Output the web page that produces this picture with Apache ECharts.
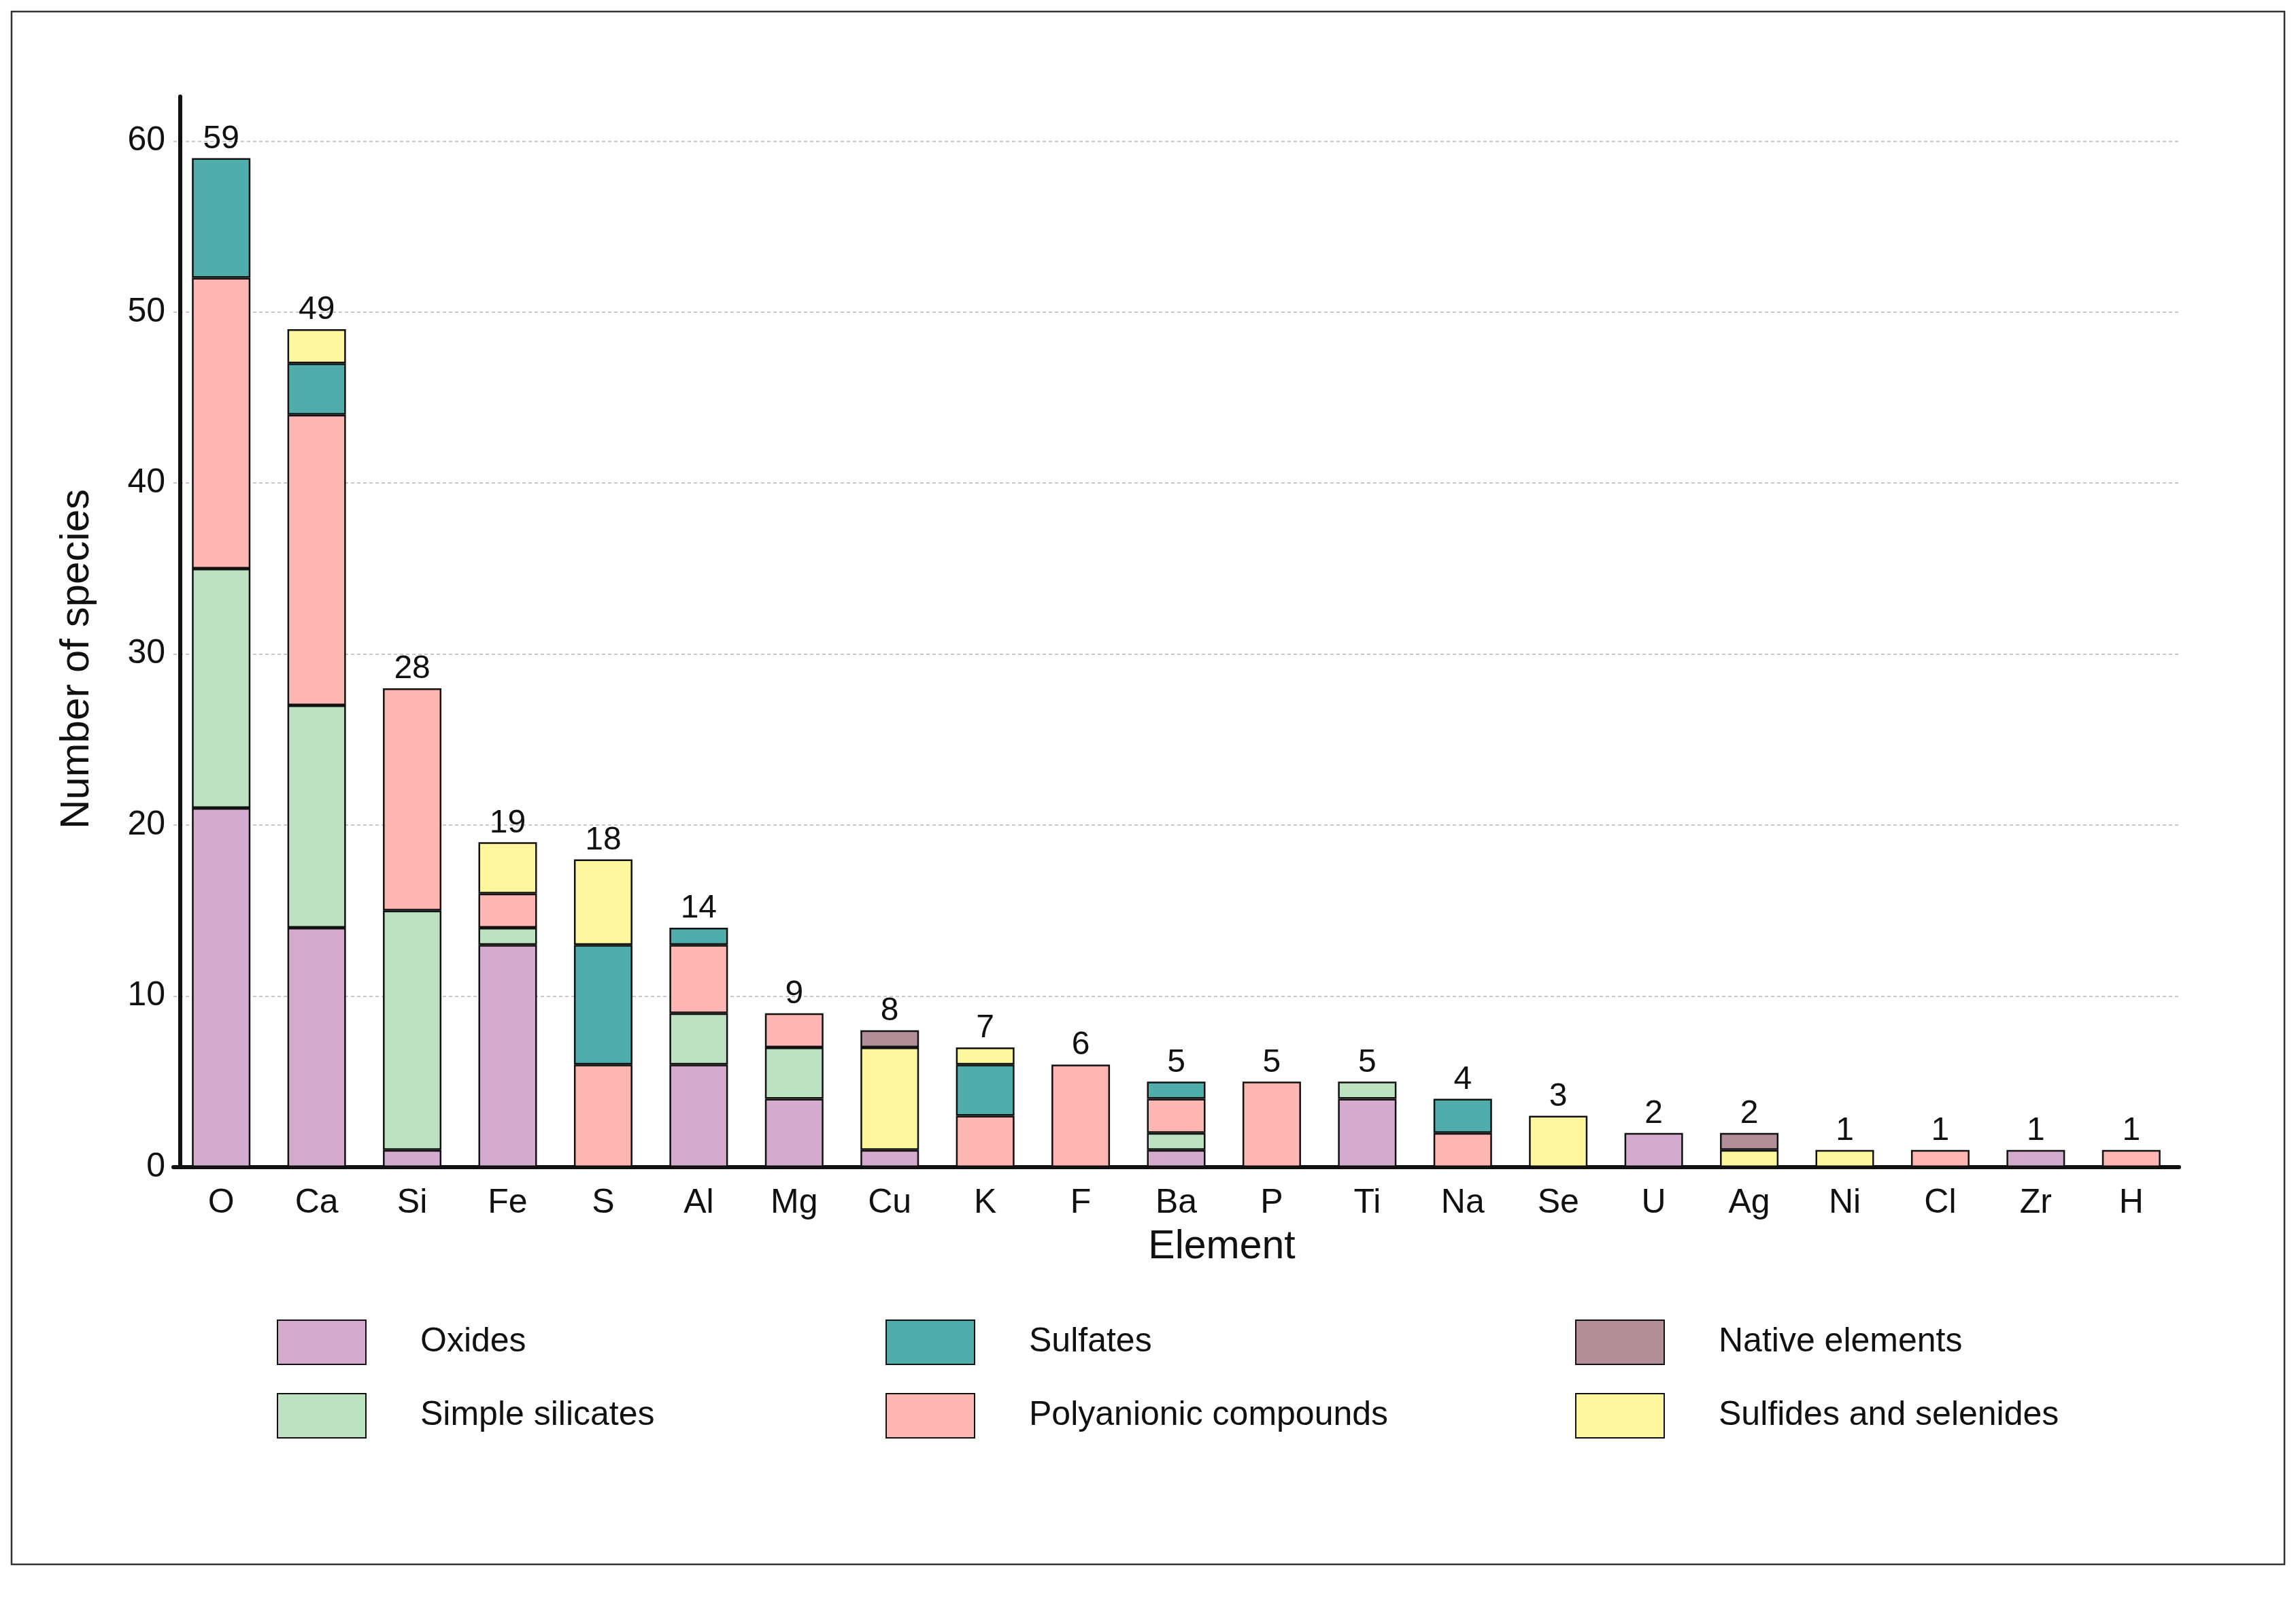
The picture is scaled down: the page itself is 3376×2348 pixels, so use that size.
<!DOCTYPE html>
<html>
<head>
<meta charset="utf-8">
<script src="https://cdn.jsdelivr.net/npm/echarts@6/dist/echarts.min.js"></script>
<style>html,body{margin:0;padding:0;background:#fff;}#c{width:3376px;height:2348px;}</style>
</head>
<body>
<div id="c"></div>
<script>
const categories = ['O','Ca','Si','Fe','S','Al','Mg','Cu','K','F','Ba','P','Ti','Na','Se','U','Ag','Ni','Cl','Zr','H'];
const oxides      = [21,14,1,13,0,6,4,1,0,0,1,0,4,0,0,2,0,0,0,1,0];
const silicates   = [14,13,14,1,0,3,3,0,0,0,1,0,1,0,0,0,0,0,0,0,0];
const polyanionic = [17,17,13,2,6,4,2,0,3,6,2,5,0,2,0,0,0,0,1,0,1];
const sulfates    = [7,3,0,0,7,1,0,0,3,0,1,0,0,2,0,0,0,0,0,0,0];
const sulfides    = [0,2,0,3,5,0,0,6,1,0,0,0,0,0,3,0,1,1,0,0,0];
const native      = [0,0,0,0,0,0,0,1,0,0,0,0,0,0,0,0,1,0,0,0,0];
const yTicks = [0,10,20,30,40,50,60];

const FONT = '"Liberation Sans", Arial, sans-serif';
const groups = [
  {name:'Oxides', data:oxides, color:'#D4AACE'},
  {name:'Simple silicates', data:silicates, color:'#BCE2C2'},
  {name:'Polyanionic compounds', data:polyanionic, color:'#FEB6B3'},
  {name:'Sulfates', data:sulfates, color:'#4FADAB'},
  {name:'Sulfides and selenides', data:sulfides, color:'#FFF79E'},
  {name:'Native elements', data:native, color:'#B28F98'}
];
const totals = categories.map((c,i)=>groups.reduce((s,g)=>s+g.data[i],0));

const series = groups.map(g=>({
  name:g.name, type:'bar', stack:'total', barWidth:86,
  data:g.data.map(v=>v===0?null:v),
  itemStyle:{color:g.color, borderColor:'#111', borderWidth:2.5},
  emphasis:{disabled:true}
}));
series.push({
  name:'_total', type:'bar', stack:'total', barWidth:86,
  data:categories.map(()=>0),
  itemStyle:{color:'transparent', borderWidth:0},
  label:{show:true, position:'top', distance:4, color:'#111', fontSize:48, fontFamily:FONT,
         formatter:p=>String(totals[p.dataIndex])},
  emphasis:{disabled:true}
});

const legendCommon = {
  orient:'vertical', top:1940, padding:0, itemGap:41, itemWidth:130, itemHeight:65,
  icon:'rect', selectedMode:false,
  textStyle:{fontSize:50, fontFamily:FONT, color:'#111', padding:[0,0,0,75]}
};

const chart = echarts.init(document.getElementById('c'), null, {renderer:'canvas'});
chart.setOption({
  backgroundColor:'#fff',
  animation:false,
  graphic:[{type:'rect', shape:{x:17,y:17,width:3342,height:2283},
            style:{fill:'none', stroke:'#333', lineWidth:2.5}, silent:true}],
  legend:[
    Object.assign({left:407, data:['Oxides','Simple silicates']}, legendCommon),
    Object.assign({left:1302, data:['Sulfates','Polyanionic compounds']}, legendCommon),
    Object.assign({left:2316, data:['Native elements','Sulfides and selenides']}, legendCommon)
  ],
  grid:{left:255, right:3376-3204, top:142, bottom:2348-1716, containLabel:false},
  xAxis:{
    type:'category', data:categories, boundaryGap:true,
    axisLine:{show:true, lineStyle:{color:'#111', width:6}},
    axisTick:{show:false},
    axisLabel:{color:'#111', fontSize:50, fontFamily:FONT, margin:28},
    name:'Element', nameLocation:'middle', nameGap:88,
    nameTextStyle:{fontSize:59, fontFamily:FONT, color:'#111', padding:[0,0,0,134]}
  },
  yAxis:{
    type:'value', min:0, max:62.6, interval:10, offset:-10,
    axisLine:{show:true, lineStyle:{color:'#111', width:6}},
    axisTick:{show:false},
    axisLabel:{color:'#111', fontSize:50, fontFamily:FONT, margin:22, showMaxLabel:false,
               formatter:v=>yTicks.indexOf(v)>=0?String(v):''},
    splitLine:{show:true, showMaxLine:false, lineStyle:{color:'#c8c8c8', width:2, type:[5,4]}},
    name:'Number of species', nameLocation:'middle', nameRotate:90, nameGap:122,
    nameTextStyle:{fontSize:60, fontFamily:FONT, color:'#111', padding:[0,80,0,0]}
  },
  series:series
});
</script>
</body>
</html>
